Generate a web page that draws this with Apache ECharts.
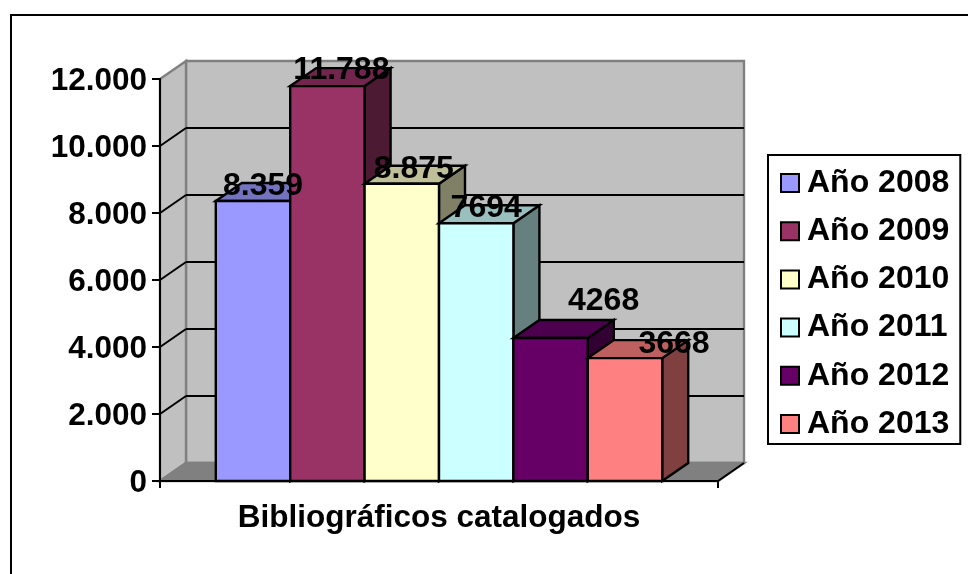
<!DOCTYPE html>
<html>
<head>
<meta charset="utf-8">
<title>Bibliográficos catalogados</title>
<script src="https://cdn.jsdelivr.net/npm/echarts@6/dist/echarts.min.js"></script>
<style>
  html, body { margin: 0; padding: 0; background: #fff; }
  #chart { width: 968px; height: 574px; }
</style>
</head>
<body>
<div id="chart"></div>
<script>
var categories = ["Bibliográficos catalogados"];
var years = ["Año 2008", "Año 2009", "Año 2010", "Año 2011", "Año 2012", "Año 2013"];
var values = [8359, 11788, 8875, 7694, 4268, 3668];
var valueLabels = ["8.359", "11.788", "8.875", "7694", "4268", "3668"];
var yTicks = [0, 2000, 4000, 6000, 8000, 10000, 12000];
var tickLabels = ["0", "2.000", "4.000", "6.000", "8.000", "10.000", "12.000"];
var colors = ["#9999FF", "#993366", "#FFFFCC", "#CCFFFF", "#660066", "#FF8080"];

// profundidad del efecto 3D
var DX = 26;
var DY = -18;
var FONT = '"Liberation Sans", Arial, sans-serif';
// los rotulos no estan centrados igual en cada barra
var labelShift = [[10, -15], [14, -16], [12, -15], [10, -15], [53, -37], [49, -14]];

function shade(hex, k) {
  var n = parseInt(hex.slice(1), 16);
  var r = Math.round((n >> 16) * k);
  var g = Math.round(((n >> 8) & 255) * k);
  var b = Math.round((n & 255) * k);
  return "rgb(" + r + "," + g + "," + b + ")";
}

function poly(points, fill, stroke) {
  return {
    type: "polygon",
    shape: { points: points },
    style: { fill: fill, stroke: stroke, lineWidth: 2.4, lineJoin: "miter" },
  };
}

function line(x1, y1, x2, y2, color) {
  return {
    type: "line",
    shape: { x1: x1, y1: y1, x2: x2, y2: y2 },
    style: { stroke: color, lineWidth: 2 },
  };
}

function renderWall(params, api) {
  var band = api.size([1, 0])[0];
  var p = api.coord([0, api.value(1)]);
  var left = p[0] - band / 2;
  var right = p[0] + band / 2;
  var y = p[1];
  var children = [];
  if (params.dataIndex === 0) {
    var top = api.coord([0, yTicks[yTicks.length - 1]])[1];
    children.push(poly([[left + DX, top + DY], [right + DX, top + DY], [right + DX, y + DY], [left + DX, y + DY]], "#C0C0C0", "#808080"));
    children.push(poly([[left, top], [left + DX, top + DY], [left + DX, y + DY], [left, y]], "#C0C0C0", "#808080"));
    children.push(poly([[left, y], [left + DX, y + DY], [right + DX, y + DY], [right, y]], "#808080", "#808080"));
    children.push(line(right, y, right + DX, y + DY, "#000"));
    // marcas del eje x
    children.push(line(left, y, left, y + 7, "#000"));
    children.push(line(right, y, right, y + 7, "#000"));
  } else if (params.dataIndex < yTicks.length - 1) {
    children.push(line(left, y, left + DX, y + DY, "#000"));
    children.push(line(left + DX, y + DY, right + DX, y + DY, "#000"));
  }
  return { type: "group", children: children };
}

function barRenderer(i) {
  return function (params, api) {
    var band = api.size([1, 0])[0];
    var w = band / 7.5;
    var p = api.coord([0, api.value(1)]);
    var base = api.coord([0, 0]);
    var x0 = p[0] - band / 2 + band * 0.1 + i * w;
    var x1 = x0 + w;
    var y = p[1];
    return {
      type: "group",
      children: [
        poly([[x1, y], [x1 + DX, y + DY], [x1 + DX, base[1] + DY], [x1, base[1]]], shade(colors[i], 0.5), "#000"),
        poly([[x0, y], [x0 + DX, y + DY], [x1 + DX, y + DY], [x1, y]], shade(colors[i], 0.75), "#000"),
        poly([[x0, y], [x1, y], [x1, base[1]], [x0, base[1]]], colors[i], "#000"),
      ],
    };
  };
}

function renderLabel(params, api) {
  var i = params.dataIndex;
  var band = api.size([1, 0])[0];
  var w = band / 7.5;
  var p = api.coord([0, api.value(1)]);
  return {
    type: "text",
    x: p[0] - band / 2 + band * 0.1 + (i + 0.5) * w + labelShift[i][0],
    y: p[1] + labelShift[i][1],
    style: {
      text: valueLabels[i],
      fill: "#000",
      font: "bold 32px " + FONT,
      align: "center",
      verticalAlign: "middle",
    },
  };
}

var series = [
  {
    name: "paredes",
    type: "custom",
    z: 0,
    silent: true,
    renderItem: renderWall,
    data: yTicks.map(function (v) { return [0, v]; }),
  },
];
years.forEach(function (year, i) {
  series.push({
    name: year,
    type: "custom",
    z: 2,
    renderItem: barRenderer(i),
    itemStyle: { color: colors[i], borderColor: "#000", borderWidth: 2 },
    data: [[0, values[i]]],
  });
});
series.push({
  name: "rotulos",
  type: "custom",
  z: 5,
  silent: true,
  renderItem: renderLabel,
  data: values.map(function (v) { return [0, v]; }),
});

var myChart = echarts.init(document.getElementById("chart"));
myChart.setOption({
  animation: false,
  backgroundColor: "#fff",
  graphic: [
    {
      type: "polyline",
      shape: { points: [[11, 574], [11, 15], [968, 15]] },
      style: { stroke: "#000", lineWidth: 2, fill: null },
    },
  ],
  grid: { left: 160, top: 79, width: 558, height: 402 },
  legend: {
    data: years,
    orient: "vertical",
    left: 768,
    top: 155,
    icon: "rect",
    itemWidth: 18,
    itemHeight: 18,
    itemGap: 16.2,
    padding: [12, 11, 4, 12],
    borderColor: "#000",
    borderWidth: 2,
    backgroundColor: "#fff",
    selectedMode: false,
    textStyle: { color: "#000", fontFamily: FONT, fontWeight: "bold", fontSize: 32, padding: [0, 0, 0, 3] },
  },
  xAxis: {
    type: "category",
    data: categories,
    z: 1,
    axisLine: { lineStyle: { color: "#000", width: 2 } },
    axisTick: { show: false },
    axisLabel: { color: "#000", fontFamily: FONT, fontWeight: "bold", fontSize: 31.5, margin: 21 },
  },
  yAxis: {
    type: "value",
    min: 0,
    max: 12000,
    interval: 2000,
    z: 1,
    axisLine: { show: true, lineStyle: { color: "#000", width: 2 } },
    axisTick: { show: true, length: 8, lineStyle: { color: "#000", width: 2 } },
    splitLine: { show: false },
    axisLabel: {
      color: "#000",
      fontFamily: FONT,
      fontWeight: "bold",
      fontSize: 31.5,
      margin: 13,
      verticalAlign: "top",
      padding: [-14, 0, 0, 0],
      formatter: function (v) { return tickLabels[yTicks.indexOf(v)]; },
    },
  },
  series: series,
});
</script>
</body>
</html>
